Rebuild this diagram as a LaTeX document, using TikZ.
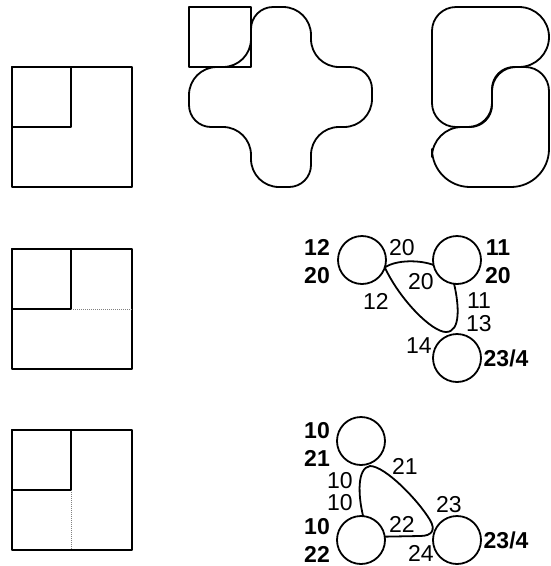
\documentclass[tikz,border=0pt]{standalone}
\usepackage{fontspec}
\setmainfont{Liberation Sans}
\usetikzlibrary{positioning}

\begin{document}
\begin{tikzpicture}[x=1pt,y=-1pt,line join=round,
    blob/.style={draw,line width=1.8pt},
    box/.style={draw,line width=2pt},
    seam/.style={draw=gray,densely dotted,line width=1pt},
    cvx/.style={rounded corners=28pt},
    ccv/.style={rounded corners=22pt},
    vtx/.style={draw,circle,line width=1.8pt,minimum size=48pt,inner sep=0pt,outer sep=0pt},
    edge/.style={line width=1.8pt},
    num/.style={inner sep=0pt,font=\fontsize{23}{28}\selectfont},
    cnt/.style={inner sep=0pt,align=center,font=\fontsize{23}{28}\selectfont\bfseries}]
  \useasboundingbox (0,0) rectangle (550,566);

  \draw[box] (12,67) rectangle (132,187);
  \draw[box] (12,67) rectangle (71,127);
  \draw[box] (12,249) rectangle (132,369);
  \draw[box] (12,249) rectangle (71,309);
  \draw[seam] (71,309) -- (132,309);
  \draw[box] (12,430) rectangle (132,550);
  \draw[box] (12,430) rectangle (71,490);
  \draw[seam] (71,490) -- (71,550);

  \draw[blob,cvx] (281,7) -- (311,7) -- (311,67) [ccv] -- (372,67) [cvx] -- (372,127) -- (311,127)
    [ccv] -- (311,187) [cvx] -- (251,187) -- (251,127) [ccv] -- (189,127) [cvx] -- (189,67)
    -- (251,67) [ccv] -- (251,7) [cvx] -- (281,7);
  \draw[box] (189,7) rectangle (251,67);

  \draw[blob,rounded corners=30pt] (470,7) -- (549,7) -- (549,67) [rounded corners=24pt] -- (492,67)
    [rounded corners=22pt] -- (492,127) [rounded corners=24pt] -- (432,127) -- (432,7)
    [rounded corners=40pt] -- (470,7);
  \draw[blob,rounded corners=38pt] (549,140) -- (549,187) -- (432,187) [rounded corners=30pt] -- (432,127)
    [rounded corners=24pt] -- (492,127) [rounded corners=22pt] -- (492,67) [rounded corners=24pt] -- (549,67)
    -- (549,140);

  \node[vtx] (m1) at (362,260) {};
  \node[vtx,right=47pt of m1] (m2) {};
  \node[vtx,below=50pt of m2] (m3) {};
  \node[cnt,left=8pt of m1,yshift=-2pt] (m1c) {12\\20};
  \node[cnt,right=4pt of m2,yshift=-2pt] (m2c) {11\\20};
  \node[cnt,right=2.5pt of m3] (m3c) {23/4};
  \draw[edge] (m1.-18) .. controls +(12,-8) and +(-13,-5) .. (m2.192);
  \draw[edge] (m2.-97) .. controls (459,305) and (461,332) .. (446,332) .. controls (432,332) and (400,300) .. (m1.-18);
  \node[num] (m12a) at (402,248) {20};
  \node[num] (m12b) at (421,282) {20};
  \node[num] (m1e) at (376,301) {12};
  \node[num] (m2e) at (479,301) {11};
  \node[num] (m3e) at (479,324) {13};
  \node[num] (m3w) at (419,346) {14};

  \node[vtx] (b1) at (361,441) {};
  \node[vtx,below=51pt of b1] (b2) {};
  \node[vtx,right=48pt of b2] (b3) {};
  \node[cnt,left=7pt of b1,yshift=-3pt] (b1c) {10\\21};
  \node[cnt,left=7pt of b2] (b2c) {10\\22};
  \node[cnt,right=2.5pt of b3] (b3c) {23/4};
  \draw[edge] (b2.85) .. controls (358,495) and (357,468) .. (370,466) .. controls (385,466) and (418,500) .. (430,520)
    .. controls (436,530) and (432,536) .. (420,536) -- (b2.8);
  \node[num] (b1e) at (405,466) {21};
  \node[num] (b1s) at (340,481) {10};
  \node[num] (b2n) at (340,503) {10};
  \node[num] (b3n) at (449,505) {23};
  \node[num] (b2e) at (402,524) {22};
  \node[num] (b3w) at (421,553) {24};
\end{tikzpicture}
\end{document}
